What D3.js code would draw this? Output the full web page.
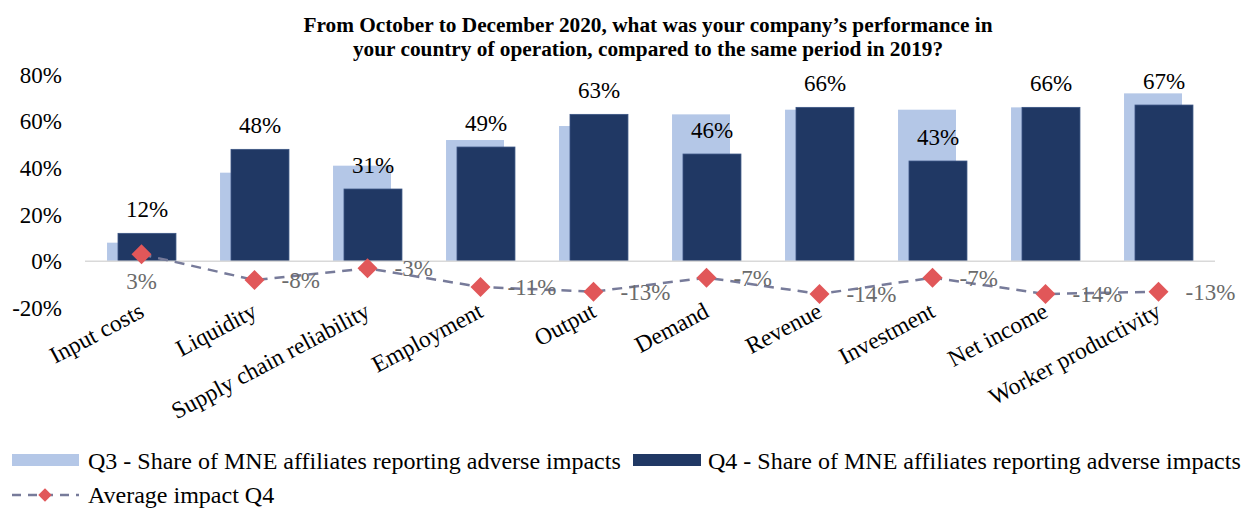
<!DOCTYPE html>
<html>
<head>
<meta charset="utf-8">
<script src="https://cdn.jsdelivr.net/npm/d3@7"></script>
<style>
  body { margin: 0; background: #fff; }
  svg text { font-family: "Liberation Serif", "Times New Roman", serif; }
</style>
</head>
<body>
<div id="chart"></div>
<script>
// chart data
var categories = ["Input costs", "Liquidity", "Supply chain reliability", "Employment", "Output",
    "Demand", "Revenue", "Investment", "Net income", "Worker productivity"];
var q3Share = [8, 38, 41, 52, 58, 63, 65, 65, 66, 72];
var q4Share = [12, 48, 31, 49, 63, 46, 66, 43, 66, 67];
var avgImpact = [3, -8, -3, -11, -13, -7, -14, -7, -14, -13];
var yTicks = [-20, 0, 20, 40, 60, 80];
var titleLines = ["From October to December 2020, what was your company\u2019s performance in",
    "your country of operation, compared to the same period in 2019?"];
var legendQ3 = "Q3 - Share of MNE affiliates reporting adverse impacts";
var legendQ4 = "Q4 - Share of MNE affiliates reporting adverse impacts";
var legendLine = "Average impact Q4";

var W = 1244, H = 508;
var serif = "'Liberation Serif', 'Times New Roman', serif";
var colQ3 = "#b4c7e7", colQ4 = "#203864", colLine = "#777b9a", colMark = "#e15759";

var svg = d3.select("#chart").append("svg")
    .attr("width", W)
    .attr("height", H)
    .style("font-family", serif);

// scales
var x = d3.scaleBand().domain(categories).range([85, 1215]);
var y = d3.scaleLinear().domain([-20, 80]).range([308, 74.7]);
var bw = x.bandwidth();

// title
svg.append("g").selectAll("text")
    .data(titleLines)
    .enter().append("text")
    .attr("x", 648)
    .attr("y", function (d, i) { return 32 + i * 24; })
    .attr("text-anchor", "middle")
    .style("font-family", serif)
    .style("font-size", "21.3px")
    .style("font-weight", "bold")
    .text(function (d) { return d; });

// y axis labels (no line)
var yAxis = svg.append("g")
    .attr("transform", "translate(64,0)")
    .call(d3.axisLeft(y).tickValues(yTicks).tickSize(0).tickPadding(2)
        .tickFormat(function (d) { return d + "%"; }));
yAxis.attr("font-family", null).attr("font-size", null);
yAxis.select(".domain").remove();
yAxis.selectAll("text")
    .style("font-family", serif)
    .style("font-size", "23px")
    .attr("fill", "#000");

// Q3 bars
svg.append("g").selectAll("rect")
    .data(q3Share)
    .enter().append("rect")
    .attr("x", function (d, i) { return x(categories[i]) + bw * 0.195; })
    .attr("y", function (d) { return y(d); })
    .attr("width", bw * 0.513)
    .attr("height", function (d) { return y(0) - y(d); })
    .attr("fill", colQ3);

// Q4 bars
svg.append("g").selectAll("rect")
    .data(q4Share)
    .enter().append("rect")
    .attr("x", function (d, i) { return x(categories[i]) + bw * 0.292; })
    .attr("y", function (d) { return y(d); })
    .attr("width", bw * 0.513)
    .attr("height", function (d) { return y(0) - y(d); })
    .attr("fill", colQ4)
    .attr("stroke", "#3b5584")
    .attr("stroke-width", 0.8);

// zero line
svg.append("line")
    .attr("x1", 85).attr("x2", 1215)
    .attr("y1", y(0)).attr("y2", y(0))
    .attr("stroke", "#d9d9d9")
    .attr("stroke-width", 1.5);

// Q4 labels
svg.append("g").selectAll("text")
    .data(q4Share)
    .enter().append("text")
    .attr("x", function (d, i) { return x(categories[i]) + bw * 0.292 + bw * 0.513 / 2; })
    .attr("y", function (d) { return y(d) - 16.5; })
    .attr("text-anchor", "middle")
    .style("font-family", serif)
    .style("font-size", "23px")
    .text(function (d) { return d + "%"; });

// average impact line
var cx = function (d, i) { return x(categories[i]) + bw / 2; };
var line = d3.line()
    .x(cx)
    .y(function (d) { return y(d); });
svg.append("path")
    .datum(avgImpact)
    .attr("d", line)
    .attr("fill", "none")
    .attr("stroke", colLine)
    .attr("stroke-width", 2.5)
    .attr("stroke-dasharray", "10,7");

svg.append("g").selectAll("path")
    .data(avgImpact)
    .enter().append("path")
    .attr("d", d3.symbol().type(d3.symbolSquare).size(200))
    .attr("transform", function (d, i) {
        return "translate(" + cx(d, i) + "," + y(d) + ") rotate(45)";
    })
    .attr("fill", colMark);

// line labels
svg.append("g").selectAll("text")
    .data(avgImpact)
    .enter().append("text")
    .attr("x", function (d, i) { return i === 0 ? cx(d, i) : cx(d, i) + 27; })
    .attr("y", function (d, i) { return i === 0 ? y(d) + 35 : y(d) + 8; })
    .attr("text-anchor", function (d, i) { return i === 0 ? "middle" : "start"; })
    .attr("fill", "#6b6b6b")
    .style("font-family", serif)
    .style("font-size", "23px")
    .text(function (d) { return d + "%"; });

// category labels
svg.append("g").selectAll("text")
    .data(categories)
    .enter().append("text")
    .attr("transform", function (d) {
        return "translate(" + (x(d) + bw / 2 + 4) + ",316) rotate(-28)";
    })
    .attr("text-anchor", "end")
    .style("font-family", serif)
    .style("font-size", "23.5px")
    .text(function (d) { return d; });

// legend
var leg = svg.append("g").style("font-family", serif).style("font-size", "24px");
leg.append("rect").attr("x", 12).attr("y", 454).attr("width", 67).attr("height", 12).attr("fill", colQ3);
leg.append("text").attr("x", 88).attr("y", 469).text(legendQ3);
leg.append("rect").attr("x", 633).attr("y", 454).attr("width", 68).attr("height", 12).attr("fill", colQ4);
leg.append("text").attr("x", 708).attr("y", 469).text(legendQ4);
leg.append("line").attr("x1", 12).attr("x2", 79).attr("y1", 495).attr("y2", 495)
    .attr("stroke", colLine).attr("stroke-width", 2.5).attr("stroke-dasharray", "9,7");
leg.append("path")
    .attr("d", d3.symbol().type(d3.symbolSquare).size(90))
    .attr("transform", "translate(45,495) rotate(45)")
    .attr("fill", colMark);
leg.append("text").attr("x", 88).attr("y", 503).text(legendLine);
</script>
</body>
</html>
